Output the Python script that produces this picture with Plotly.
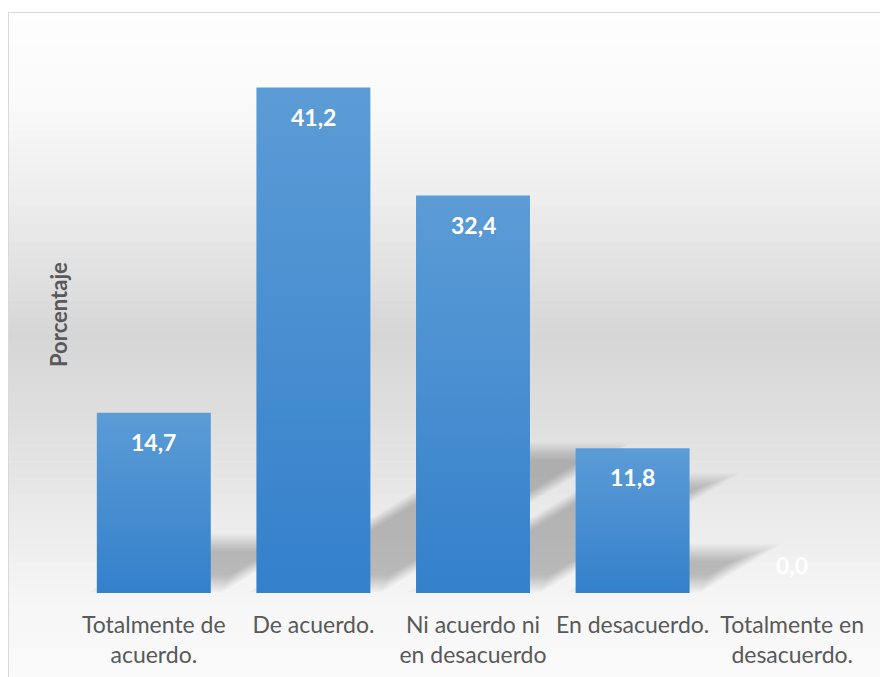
import plotly.graph_objects as go
import numpy as np

categories = ["Totalmente de<br>acuerdo.", "De acuerdo.", "Ni acuerdo ni<br>en desacuerdo",
              "En desacuerdo.", "Totalmente en<br>desacuerdo."]
values = [14.7, 41.2, 32.4, 11.8, 0.0]
axis_title = "Porcentaje"

OFF = 8  # page body margin
W, H = 888 - OFF, 677 - OFF
ML, MR, MT, MB = 74 - OFF, 16, 41 - OFF, 84
pw, ph = W - ML - MR, H - MT - MB
YMAX = 45

def py2p(py):  # page pixel y -> paper
    return (H - MB - (py - OFF)) / ph

def px2p(px):  # page pixel x -> paper
    return ((px - OFF) - ML) / pw

fig = go.Figure()

# background gradient (styling)
ctrl_y = [12, 100, 200, 335, 450, 600, 690]
ctrl_g = [254, 250, 237, 214, 226, 246, 251]
n = 80
edges = np.linspace(12, 690, n + 1)
shapes = []
for i in range(n):
    mid = (edges[i] + edges[i + 1]) / 2
    g = int(round(np.interp(mid, ctrl_y, ctrl_g)))
    shapes.append(dict(type="rect", xref="paper", yref="paper", layer="below",
                       x0=px2p(8), x1=px2p(900),
                       y0=py2p(edges[i + 1] + 0.6), y1=py2p(edges[i]),
                       fillcolor=f"rgb({g},{g},{g})", line=dict(width=0)))
# border
shapes.append(dict(type="rect", xref="paper", yref="paper", layer="below",
                   x0=px2p(8.5), x1=px2p(900),
                   y0=py2p(700), y1=py2p(12.5),
                   fillcolor="rgba(0,0,0,0)", line=dict(color="#d9d9d9", width=1)))

half = 0.357
xpx = pw / len(values)
ypx = ph / YMAX
hw = half * xpx
slope = 0.6
# soft perspective shadows behind bars (decoration)
for i, v in enumerate(values):
    if v <= 0:
        continue
    hpx = v * ypx
    yb0, yt0 = 9.0, 0.28 * hpx
    for d in np.linspace(-9, 9, 15):
        yb, yt = max(yb0 - d, 0.5), yt0 + d
        if yt <= yb:
            continue
        pts = [(-hw + yb / slope - 1.17 * d, yb), (hw + yb / slope + 1.17 * d, yb),
               (hw + yt / slope + 1.17 * d, yt), (-hw + yt / slope - 1.17 * d, yt)]
        path = "M " + " L ".join(f"{i + px_ / xpx},{py_ / ypx}" for px_, py_ in pts) + " Z"
        shapes.append(dict(type="path", xref="x", yref="y", layer="below", path=path,
                           fillcolor="rgba(0,0,0,0.016)", line=dict(width=0)))

for i, v in enumerate(values):
    if v <= 0:
        continue
    fig.add_trace(go.Scatter(
        x=[i - half, i - half, i + half, i + half, i - half],
        y=[0, v, v, 0, 0],
        mode="lines", fill="toself", line=dict(width=0),
        fillgradient=dict(type="vertical", colorscale=[[0, "#3480cb"], [1, "#5c9cd6"]]),
        hoverinfo="skip", showlegend=False))

annotations = []
for i, v in enumerate(values):
    annotations.append(dict(x=i, y=v, xref="x", yref="y", text=f"{v:.1f}".replace(".", ","),
                            showarrow=False, yshift=-29 if v > 0 else 28, yanchor="middle",
                            font=dict(family="Lato", size=23, color="white", weight="bold")))
annotations.append(dict(x=px2p(58), y=py2p(315), xref="paper", yref="paper",
                        xanchor="center", yanchor="middle",
                        text=axis_title, showarrow=False, textangle=-90,
                        font=dict(family="Lato", size=22, color="#595959", weight="bold")))

fig.update_layout(
    width=W, height=H,
    margin=dict(l=ML, r=MR, t=MT, b=MB, autoexpand=False),
    paper_bgcolor="white", plot_bgcolor="rgba(0,0,0,0)",
    shapes=shapes, annotations=annotations,
    showlegend=False,
    xaxis=dict(range=[-0.5, len(values) - 0.5], tickvals=list(range(len(values))),
               ticktext=categories, showgrid=False, zeroline=False, showline=False,
               ticks="", ticklabelstandoff=16, automargin=False,
               tickfont=dict(family="Lato", size=23, color="#595959")),
    yaxis=dict(range=[0, YMAX], showgrid=False, zeroline=False, showline=False,
               showticklabels=False, ticks="", automargin=False),
)

fig.write_html("out.html")
